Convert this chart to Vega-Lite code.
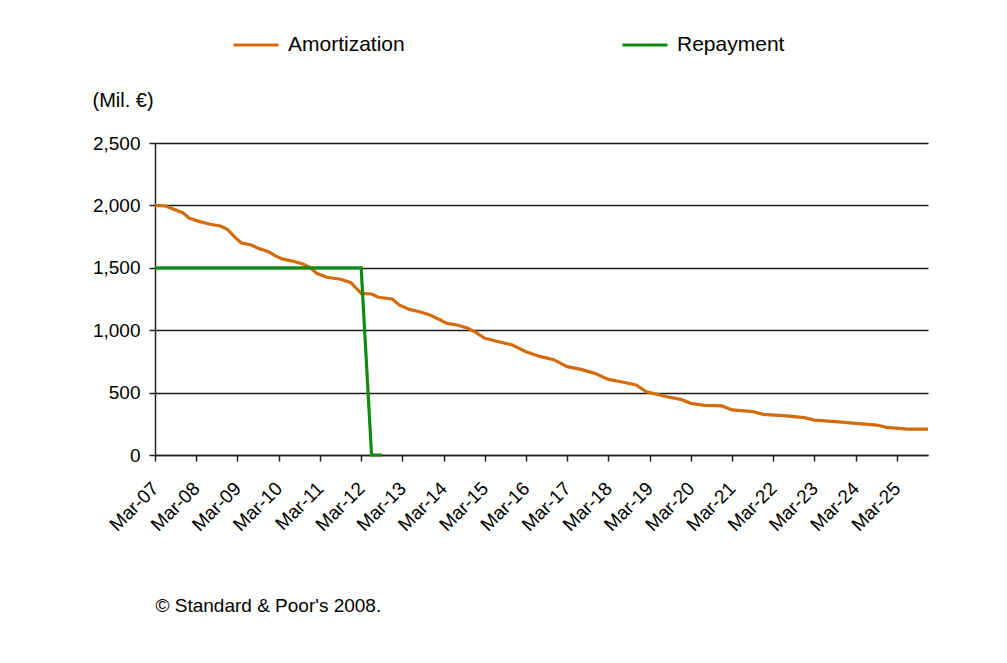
{
  "$schema": "https://vega.github.io/schema/vega-lite/v6.json",
  "width": 773,
  "height": 312,
  "autosize": {"type": "none"},
  "padding": {"left": 155, "top": 143, "right": 79, "bottom": 208},
  "background": "#ffffff",
  "config": {"view": {"stroke": null}, "font": "Liberation Sans"},
  "data": {
    "values": [
      {"series": "Amortization", "date": "2007-03-01", "value": 2000},
      {"series": "Amortization", "date": "2007-06-01", "value": 1995},
      {"series": "Amortization", "date": "2007-09-01", "value": 1963},
      {"series": "Amortization", "date": "2007-11-01", "value": 1942},
      {"series": "Amortization", "date": "2008-01-01", "value": 1897},
      {"series": "Amortization", "date": "2008-04-01", "value": 1870},
      {"series": "Amortization", "date": "2008-07-01", "value": 1849},
      {"series": "Amortization", "date": "2008-10-01", "value": 1835},
      {"series": "Amortization", "date": "2008-12-01", "value": 1809},
      {"series": "Amortization", "date": "2009-02-01", "value": 1750},
      {"series": "Amortization", "date": "2009-04-01", "value": 1701},
      {"series": "Amortization", "date": "2009-07-01", "value": 1683},
      {"series": "Amortization", "date": "2009-09-01", "value": 1656},
      {"series": "Amortization", "date": "2009-12-01", "value": 1629},
      {"series": "Amortization", "date": "2010-02-01", "value": 1595},
      {"series": "Amortization", "date": "2010-04-01", "value": 1571},
      {"series": "Amortization", "date": "2010-07-01", "value": 1554},
      {"series": "Amortization", "date": "2010-10-01", "value": 1530},
      {"series": "Amortization", "date": "2010-12-01", "value": 1504},
      {"series": "Amortization", "date": "2011-02-01", "value": 1456},
      {"series": "Amortization", "date": "2011-05-01", "value": 1424},
      {"series": "Amortization", "date": "2011-09-01", "value": 1408},
      {"series": "Amortization", "date": "2011-12-01", "value": 1381},
      {"series": "Amortization", "date": "2012-02-01", "value": 1322},
      {"series": "Amortization", "date": "2012-03-01", "value": 1295},
      {"series": "Amortization", "date": "2012-06-01", "value": 1290},
      {"series": "Amortization", "date": "2012-08-01", "value": 1264},
      {"series": "Amortization", "date": "2012-12-01", "value": 1250},
      {"series": "Amortization", "date": "2013-02-01", "value": 1202},
      {"series": "Amortization", "date": "2013-05-01", "value": 1167},
      {"series": "Amortization", "date": "2013-08-01", "value": 1148},
      {"series": "Amortization", "date": "2013-11-01", "value": 1122},
      {"series": "Amortization", "date": "2014-02-01", "value": 1082},
      {"series": "Amortization", "date": "2014-04-01", "value": 1055},
      {"series": "Amortization", "date": "2014-07-01", "value": 1042},
      {"series": "Amortization", "date": "2014-10-01", "value": 1015},
      {"series": "Amortization", "date": "2014-12-01", "value": 988},
      {"series": "Amortization", "date": "2015-03-01", "value": 935},
      {"series": "Amortization", "date": "2015-07-01", "value": 908},
      {"series": "Amortization", "date": "2015-11-01", "value": 881},
      {"series": "Amortization", "date": "2016-03-01", "value": 828},
      {"series": "Amortization", "date": "2016-07-01", "value": 790},
      {"series": "Amortization", "date": "2016-11-01", "value": 764},
      {"series": "Amortization", "date": "2017-03-01", "value": 708},
      {"series": "Amortization", "date": "2017-07-01", "value": 686},
      {"series": "Amortization", "date": "2017-11-01", "value": 654},
      {"series": "Amortization", "date": "2018-03-01", "value": 606},
      {"series": "Amortization", "date": "2018-07-01", "value": 585},
      {"series": "Amortization", "date": "2018-11-01", "value": 561},
      {"series": "Amortization", "date": "2019-02-01", "value": 507},
      {"series": "Amortization", "date": "2019-04-01", "value": 494},
      {"series": "Amortization", "date": "2019-08-01", "value": 467},
      {"series": "Amortization", "date": "2019-12-01", "value": 446},
      {"series": "Amortization", "date": "2020-03-01", "value": 414},
      {"series": "Amortization", "date": "2020-07-01", "value": 398},
      {"series": "Amortization", "date": "2020-12-01", "value": 393},
      {"series": "Amortization", "date": "2021-03-01", "value": 361},
      {"series": "Amortization", "date": "2021-09-01", "value": 347},
      {"series": "Amortization", "date": "2021-12-01", "value": 326},
      {"series": "Amortization", "date": "2022-06-01", "value": 315},
      {"series": "Amortization", "date": "2022-12-01", "value": 299},
      {"series": "Amortization", "date": "2023-03-01", "value": 280},
      {"series": "Amortization", "date": "2023-09-01", "value": 267},
      {"series": "Amortization", "date": "2024-03-01", "value": 254},
      {"series": "Amortization", "date": "2024-09-01", "value": 240},
      {"series": "Amortization", "date": "2024-12-01", "value": 222},
      {"series": "Amortization", "date": "2025-06-01", "value": 208},
      {"series": "Amortization", "date": "2025-12-01", "value": 208},
      {"series": "Repayment", "date": "2007-03-01", "value": 1500},
      {"series": "Repayment", "date": "2012-03-01", "value": 1500},
      {"series": "Repayment", "date": "2012-06-01", "value": 0},
      {"series": "Repayment", "date": "2012-09-01", "value": 0}
    ]
  },
  "mark": {"type": "line", "strokeWidth": 3.2},
  "encoding": {
    "x": {
      "field": "date",
      "type": "temporal",
      "scale": {
        "type": "utc",
        "domain": [
          {"year": 2007, "month": 3, "date": 1, "utc": true},
          {"year": 2025, "month": 12, "date": 1, "utc": true}
        ]
      },
      "axis": {
        "values": [
          {"year": 2007, "month": 3, "date": 1, "utc": true},
          {"year": 2008, "month": 3, "date": 1, "utc": true},
          {"year": 2009, "month": 3, "date": 1, "utc": true},
          {"year": 2010, "month": 3, "date": 1, "utc": true},
          {"year": 2011, "month": 3, "date": 1, "utc": true},
          {"year": 2012, "month": 3, "date": 1, "utc": true},
          {"year": 2013, "month": 3, "date": 1, "utc": true},
          {"year": 2014, "month": 3, "date": 1, "utc": true},
          {"year": 2015, "month": 3, "date": 1, "utc": true},
          {"year": 2016, "month": 3, "date": 1, "utc": true},
          {"year": 2017, "month": 3, "date": 1, "utc": true},
          {"year": 2018, "month": 3, "date": 1, "utc": true},
          {"year": 2019, "month": 3, "date": 1, "utc": true},
          {"year": 2020, "month": 3, "date": 1, "utc": true},
          {"year": 2021, "month": 3, "date": 1, "utc": true},
          {"year": 2022, "month": 3, "date": 1, "utc": true},
          {"year": 2023, "month": 3, "date": 1, "utc": true},
          {"year": 2024, "month": 3, "date": 1, "utc": true},
          {"year": 2025, "month": 3, "date": 1, "utc": true}
        ],
        "format": "%b-%y",
        "labelAngle": -45,
        "labelAlign": "right",
        "labelBaseline": "middle",
        "labelFontSize": 19,
        "labelColor": "#000000",
        "labelPadding": 24,
        "labelDx": -3,
        "labelOverlap": false,
        "labelFlush": false,
        "labelBound": false,
        "tickSize": 6,
        "tickColor": "#222222",
        "tickWidth": 1.5,
        "domainColor": "#222222",
        "domainWidth": 1.5,
        "grid": false,
        "title": "© Standard & Poor's 2008.",
        "titleX": 0,
        "titleY": 150,
        "titleAlign": "left",
        "titleBaseline": "middle",
        "titleFontSize": 19,
        "titleFontWeight": "normal",
        "titleColor": "#000000"
      }
    },
    "y": {
      "field": "value",
      "type": "quantitative",
      "scale": {"domain": [0, 2500], "nice": false},
      "axis": {
        "values": [0, 500, 1000, 1500, 2000, 2500],
        "format": ",d",
        "grid": true,
        "gridColor": "#1a1a1a",
        "gridWidth": 1.5,
        "domainColor": "#222222",
        "domainWidth": 1.5,
        "tickColor": "#222222",
        "tickSize": 6,
        "tickWidth": 1.5,
        "labelFontSize": 19,
        "labelColor": "#000000",
        "labelPadding": 9,
        "title": "(Mil. €)",
        "titleAngle": 0,
        "titleAlign": "left",
        "titleBaseline": "middle",
        "titleX": -63,
        "titleY": -43,
        "titleFontSize": 20,
        "titleFontWeight": "normal",
        "titleColor": "#000000"
      }
    },
    "color": {
      "field": "series",
      "type": "nominal",
      "scale": {"domain": ["Amortization", "Repayment"], "range": ["#d46b0c", "#108a10"]},
      "legend": {
        "title": null,
        "orient": "none",
        "legendX": 77,
        "legendY": -122,
        "direction": "horizontal",
        "symbolType": "stroke",
        "symbolSize": 2025,
        "symbolStrokeWidth": 3,
        "labelFontSize": 21,
        "labelOffset": 8,
        "labelColor": "#000000",
        "columnPadding": 211,
        "padding": 0
      }
    }
  }
}
